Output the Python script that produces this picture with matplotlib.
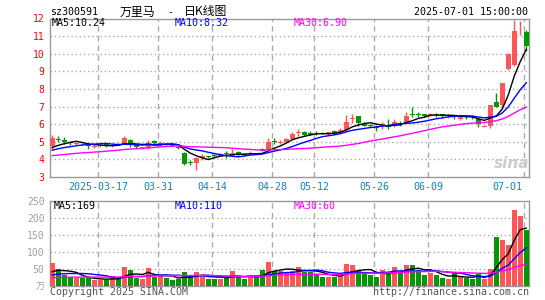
import matplotlib.pyplot as plt
import numpy as np
import pandas as pd

# daily K data, 2025-03-05 .. 2025-07-01 (80 trading days)
opens = [4.76, 5.18, 5.10, 4.98, 4.86, 4.88, 4.82, 4.72, 4.74, 4.85,
         4.75, 4.90, 4.87, 5.10, 4.85, 4.64, 4.67, 5.05, 4.86, 4.88,
         4.84, 4.72, 4.38, 3.86, 3.78, 4.08, 4.17, 4.24, 4.22, 4.34,
         4.27, 4.40, 4.30, 4.30, 4.36, 4.60, 4.52, 5.06, 4.95, 5.00,
         5.18, 5.50, 5.53, 5.50, 5.52, 5.51, 5.42, 5.63, 5.55, 5.66,
         6.32, 6.46, 6.02, 5.96, 5.84, 5.95, 5.95, 5.90, 6.06, 6.05,
         6.55, 6.56, 6.58, 6.50, 6.58, 6.56, 6.45, 6.45, 6.30, 6.42,
         6.45, 6.28, 5.86, 5.90, 7.26, 7.07, 9.16, 9.38, 11.18, 11.23]
highs = [5.38, 5.30, 5.25, 5.05, 4.98, 4.92, 4.85, 4.85, 4.83, 4.88,
         4.92, 4.93, 5.32, 5.15, 4.90, 4.72, 5.10, 5.10, 5.05, 4.92,
         4.86, 4.75, 4.40, 3.98, 4.12, 4.32, 4.22, 4.28, 4.38, 4.45,
         4.60, 4.45, 4.32, 4.45, 4.38, 4.62, 5.20, 5.20, 5.10, 5.22,
         5.55, 5.70, 5.60, 5.60, 5.60, 5.58, 5.56, 5.66, 5.78, 6.50,
         6.55, 6.47, 6.10, 6.00, 5.95, 6.15, 6.30, 6.28, 6.20, 6.68,
         6.98, 6.68, 6.60, 6.62, 6.66, 6.58, 6.55, 6.50, 6.45, 6.50,
         6.50, 6.30, 5.98, 7.10, 7.79, 8.36, 10.02, 11.93, 11.83, 11.36]
lows = [4.60, 5.00, 4.88, 4.83, 4.82, 4.80, 4.60, 4.62, 4.70, 4.68,
        4.70, 4.80, 4.85, 4.70, 4.62, 4.60, 4.60, 4.88, 4.75, 4.80,
        4.75, 4.58, 3.66, 3.70, 3.42, 3.98, 4.08, 4.15, 4.20, 4.10,
        4.20, 4.22, 4.20, 4.25, 4.28, 4.45, 4.50, 4.88, 4.85, 4.98,
        5.15, 5.33, 5.33, 5.37, 5.40, 5.42, 5.40, 5.47, 5.52, 5.62,
        6.05, 5.90, 5.88, 5.85, 5.62, 5.70, 5.70, 5.85, 5.90, 6.00,
        6.42, 6.42, 6.40, 6.46, 6.40, 6.38, 6.36, 6.28, 6.22, 6.30,
        6.30, 5.84, 5.82, 5.80, 6.95, 7.00, 9.10, 9.30, 11.08, 10.14]
closes = [5.20, 5.12, 4.98, 4.92, 4.92, 4.85, 4.74, 4.78, 4.79, 4.75,
          4.83, 4.85, 5.20, 4.83, 4.68, 4.68, 4.93, 4.92, 4.92, 4.84,
          4.78, 4.62, 3.72, 3.82, 4.10, 4.18, 4.14, 4.20, 4.30, 4.30,
          4.38, 4.28, 4.25, 4.36, 4.32, 4.50, 5.00, 5.00, 4.98, 5.15,
          5.45, 5.54, 5.40, 5.40, 5.48, 5.47, 5.54, 5.50, 5.68, 6.15,
          6.36, 6.07, 5.92, 5.90, 5.80, 6.00, 5.86, 6.13, 6.02, 6.47,
          6.50, 6.52, 6.45, 6.60, 6.53, 6.45, 6.50, 6.40, 6.40, 6.38,
          6.38, 6.00, 5.90, 7.09, 6.97, 8.35, 10.00, 11.27, 11.20, 10.42]
volumes = [66, 49, 32, 25, 22, 23, 21, 16, 16, 17,
           28, 21, 54, 45, 23, 19, 52, 25, 28, 21,
           16, 20, 39, 25, 39, 29, 20, 20, 20, 24,
           43, 24, 20, 28, 25, 46, 70, 43, 44, 40,
           44, 55, 40, 40, 35, 26, 26, 24, 28, 65,
           60, 44, 35, 32, 26, 45, 35, 54, 36, 60,
           60, 46, 31, 36, 31, 22, 19, 36, 25, 23,
           19, 34, 20, 50, 144, 136, 120, 222, 205, 165]

# days before the window, only used to warm up the moving averages
pre_close = [4.05, 4.02, 3.98, 4.00, 4.05, 4.10, 4.08, 4.02, 3.96, 3.95,
             4.00, 4.03, 4.06, 4.10, 4.12, 4.08, 4.05, 4.10, 4.15, 4.20,
             4.30, 4.35, 4.40, 4.38, 4.45, 4.50, 4.52, 4.55, 4.60]
pre_vol = [18, 20, 17, 22, 19, 21, 16, 18, 20, 23,
           19, 17, 21, 18, 20, 19, 22, 17, 16, 17,
           20, 22, 19, 24, 20, 30, 36, 33, 40]

tick_idx = [8, 18, 27, 37, 44, 54, 63, 79]
tick_labels = ["2025-03-17", "03-31", "04-14", "04-28", "05-12", "05-26", "06-09", "07-01"]

RED = "#ff5555"
GREEN = "#009900"
GRID = "#aaaaaa"
MONO = "DejaVu Sans Mono"
CJK = ["Noto Sans CJK SC", "DejaVu Sans"]

W, H = 545, 300


def fx(px):
    return px / W


def fy(py):
    return 1 - py / H


n = len(closes)
x = np.arange(n)
o = np.array(opens)
c = np.array(closes)
up = c >= o
colors = [RED if u else GREEN for u in up]

cs = pd.Series(pre_close + closes)
vs = pd.Series(pre_vol + volumes)
k0 = len(pre_close)
ma_p = {k: cs.rolling(k).mean().to_numpy()[k0:] for k in (5, 10, 30)}
ma_v = {k: vs.rolling(k).mean().to_numpy()[k0:] for k in (5, 10, 30)}
ma_colors = {5: "black", 10: "blue", 30: "magenta"}

fig = plt.figure(figsize=(5.45, 3.0), dpi=100)
left, right = 50, 529.3
ax = fig.add_axes([fx(left), fy(177), (right - left) / W, (177 - 18.5) / H])
axv = fig.add_axes([fx(left), fy(285.5), (right - left) / W, (285.5 - 201) / H])

# price panel
for y in range(4, 12):
    ax.axhline(y, color=GRID, ls=(0, (1, 2)), lw=1, zorder=0)
for a in (ax, axv):
    for i in tick_idx:
        a.axvline(i - 0.33, color=GRID, ls=(0, (4, 3)), lw=1, zorder=0)

ax.vlines(x, lows, highs, colors=colors, lw=1, zorder=2)
body = np.maximum(np.abs(c - o), 0.015)
ax.bar(x, body, bottom=np.minimum(o, c), width=0.8, color=colors, zorder=3)
for k in (5, 10, 30):
    ax.plot(x, ma_p[k], color=ma_colors[k], lw=1, zorder=4)

ax.set_xlim(-0.38, 79.5)
ax.set_ylim(3, 12)
ax.set_yticks(range(3, 13))
ax.set_yticklabels([str(v) for v in range(3, 13)], color="red",
                   fontfamily=MONO, fontsize=7)
ax.set_xticks([])
ax.tick_params(length=0, pad=4)

for i, lab in zip(tick_idx, tick_labels):
    if i == tick_idx[-1]:
        ax.text(78.3, -0.06, lab, transform=ax.get_xaxis_transform(), ha="right",
                va="center", color="#0a84d0", fontfamily=MONO, fontsize=7.2)
    else:
        ax.text(i - 0.33, -0.06, lab, transform=ax.get_xaxis_transform(), ha="center",
                va="center", color="#0a84d0", fontfamily=MONO, fontsize=7.2)

ax.text(76.6, 3.75, "sina", color="#cccccc", fontsize=11, fontweight="bold",
        fontstyle="italic", ha="center", va="center", zorder=1)

# volume panel
for y in (50, 100, 150, 200):
    axv.axhline(y, color=GRID, ls=(0, (1, 2)), lw=1, zorder=0)
axv.bar(x, volumes, width=0.8, color=colors, zorder=3)
for k in (5, 10, 30):
    axv.plot(x, ma_v[k], color=ma_colors[k], lw=1, zorder=4)
axv.set_xlim(-0.38, 79.5)
axv.set_ylim(0, 250)
axv.set_yticks([50, 100, 150, 200, 250])
axv.set_yticklabels(["50", "100", "150", "200", "250"], color="#a0a0a0",
                    fontfamily=MONO, fontsize=7)
axv.set_xticks([])
axv.tick_params(length=0, pad=4)

for a in (ax, axv):
    for s in a.spines.values():
        s.set_color("#999999")
        s.set_linewidth(1)

# texts
fig.text(fx(50), fy(12), "sz300591", fontfamily=MONO, fontsize=7.2, va="center")
fig.text(fx(120), fy(12), "万里马", family=CJK, fontsize=8.6, va="center")
fig.text(fx(167), fy(12), "-", fontfamily=MONO, fontsize=7.2, va="center")
fig.text(fx(184), fy(12), "日K线图", family=CJK, fontsize=8.6, va="center")
fig.text(fx(528.5), fy(12), "2025-07-01 15:00:00", fontfamily=MONO, fontsize=7.2,
         va="center", ha="right")

fig.text(fx(52), fy(23.5), "MA5:10.24", color="black", fontfamily=MONO, fontsize=7.2, va="center")
fig.text(fx(174.5), fy(23.5), "MA10:8.32", color="blue", fontfamily=MONO, fontsize=7.2, va="center")
fig.text(fx(294), fy(23.5), "MA30:6.90", color="magenta", fontfamily=MONO, fontsize=7.2, va="center")

fig.text(fx(54), fy(206), "MA5:169", color="black", fontfamily=MONO, fontsize=7.2, va="center")
fig.text(fx(175), fy(206), "MA10:110", color="blue", fontfamily=MONO, fontsize=7.2, va="center")
fig.text(fx(294), fy(206), "MA30:60", color="magenta", fontfamily=MONO, fontsize=7.2, va="center")

fig.text(fx(45), fy(287), "万", family=CJK, fontsize=6.5, color="#a0a0a0", va="center", ha="right")
fig.text(fx(50), fy(292), "Copyright 2025 SINA.COM", fontfamily=MONO, fontsize=7.2,
         color="#555555", va="center")
fig.text(fx(529.3), fy(292), "http://finance.sina.com.cn", fontfamily=MONO, fontsize=7.2,
         color="#555555", va="center", ha="right")

fig.savefig("out.png", dpi=100, facecolor="white")
